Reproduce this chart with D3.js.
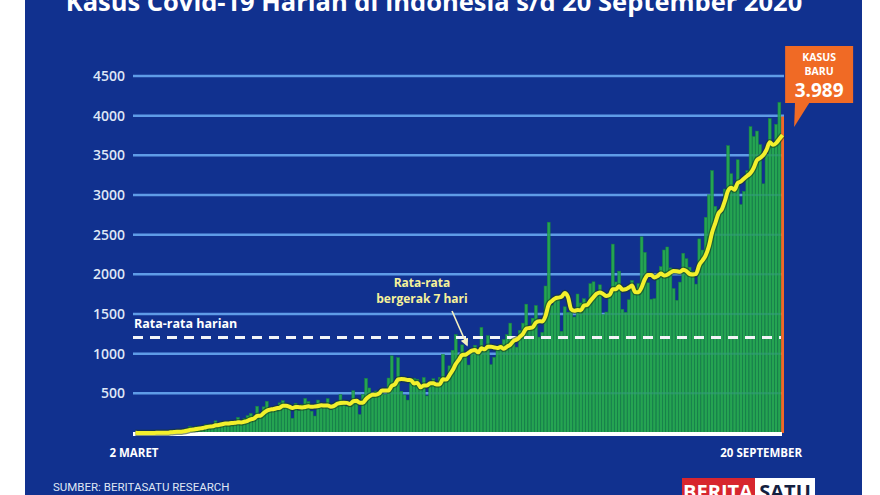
<!DOCTYPE html>
<html>
<head>
<meta charset="utf-8">
<script src="https://cdn.jsdelivr.net/npm/d3@7"></script>
<style>
    body { margin: 0; background: #fff; }
    svg { display: block; font-family: "Open Sans", sans-serif; }
</style>
</head>
<body>
<div id="chart"></div>
<script>
// Daily new cases, 2 Maret - 20 September 2020
var casesMar = [2, 0, 0, 0, 2, 0, 2, 13, 0, 7, 0, 35, 27, 21, 17, 38, 55, 82, 60, 81, 64, 65, 107, 104, 103, 153, 109, 130, 129, 114];
var casesApr = [149, 113, 196, 106, 181, 218, 247, 218, 337, 219, 330, 399, 316, 282, 297, 380, 407, 325, 327, 185, 375, 283, 357, 436, 396, 275, 214, 415, 347, 347];
var casesMay = [433, 292, 349, 395, 484, 367, 338, 336, 533, 387, 233, 484, 689, 568, 490, 529, 489, 496, 486, 693, 973, 634, 949, 526, 479, 415, 686, 687, 678, 557, 700];
var casesJun = [467, 609, 684, 585, 703, 993, 672, 847, 1043, 1241, 979, 1111, 1014, 857, 1017, 1106, 1031, 1331, 1041, 1226, 862, 954, 1051, 1113, 1178, 1240, 1385, 1198, 1082, 1293];
var casesJul = [1385, 1624, 1301, 1447, 1607, 1209, 1268, 1853, 2657, 1611, 1671, 1681, 1282, 1591, 1522, 1574, 1462, 1752, 1639, 1693, 1655, 1882, 1906, 1761, 1868, 1492, 1525, 1748, 2381, 1904, 2040];
var casesAug = [1560, 1519, 1679, 1922, 1815, 1882, 2473, 2277, 1893, 1687, 1693, 1942, 2098, 2307, 2345, 2081, 1821, 1673, 1902, 2266, 2197, 2090, 2037, 1877, 2447, 2306, 2719, 3003, 3308, 2858, 2743];
var casesSep = [2775, 3075, 3622, 3269, 3128, 3444, 2880, 3046, 3307, 3861, 3737, 3806, 3636, 3141, 3507, 3963, 3635, 3891, 4168, 3989];

var yTicks = [500, 1000, 1500, 2000, 2500, 3000, 3500, 4000, 4500];
var dailyAverage = 1205;   // "Rata-rata harian"
var newCasesLabel = "3.989";

var w = 880;
var h = 495;

var cases = [].concat(casesMar, casesApr, casesMay, casesJun, casesJul, casesAug, casesSep);

// 7-day moving average (trailing window)
var movingAvg = cases.map(function (d, i) {
    return d3.mean(cases.slice(Math.max(0, i - 6), i + 1));
});

var svg = d3.select("#chart")
    .append("svg")
    .attr("width", w)
    .attr("height", h);

// blue panel
svg.append("rect")
    .attr("x", 25)
    .attr("y", 0)
    .attr("width", 837)
    .attr("height", h)
    .attr("fill", "#11318f");

var xScale = d3.scaleBand()
    .domain(d3.range(cases.length))
    .range([134, 784])
    .paddingInner(0.1);

var yScale = d3.scaleLinear()
    .domain([0, 4500])
    .range([433, 76]);

// title (cut off at the top, like the source)
svg.append("text")
    .attr("x", 434)
    .attr("y", 11)
    .attr("text-anchor", "middle")
    .attr("fill", "#fff")
    .attr("font-size", "25.5px")
    .attr("font-weight", "bold")
    .text("Kasus Covid-19 Harian di Indonesia s/d 20 September 2020");

// gridlines + tick labels
var grid = svg.append("g");
yTicks.forEach(function (t) {
    grid.append("line")
        .attr("x1", 133)
        .attr("x2", 784)
        .attr("y1", yScale(t))
        .attr("y2", yScale(t))
        .attr("stroke", "#609de8")
        .attr("stroke-width", 2.5);
    grid.append("text")
        .attr("x", 125)
        .attr("y", yScale(t) + 5)
        .attr("text-anchor", "end")
        .attr("fill", "#dfe7f6")
        .attr("font-size", "14px")
        .attr("font-weight", 600)
        .text(t);
});

// bars
svg.selectAll("rect.bar")
    .data(cases)
    .enter()
    .append("rect")
    .attr("class", "bar")
    .attr("x", (d, i) => xScale(i))
    .attr("y", d => yScale(d))
    .attr("width", xScale.bandwidth())
    .attr("height", d => yScale(0) - yScale(d))
    .attr("fill", (d, i) => i === cases.length - 1 ? "#f06a25" : "#25a452")
    .attr("stroke", (d, i) => i === cases.length - 1 ? "none" : "#17843f")
    .attr("stroke-width", 0.5);

// faint gridlines through the bars
yTicks.forEach(function (t) {
    svg.append("line")
        .attr("x1", 133)
        .attr("x2", 780)
        .attr("y1", yScale(t))
        .attr("y2", yScale(t))
        .attr("stroke", "#5b97e3")
        .attr("stroke-width", 2)
        .attr("opacity", 0.15);
});

// daily average dashed line
svg.append("line")
    .attr("x1", 133)
    .attr("x2", 781)
    .attr("y1", yScale(dailyAverage))
    .attr("y2", yScale(dailyAverage))
    .attr("stroke", "#f2f4f8")
    .attr("stroke-width", 3)
    .attr("stroke-dasharray", "10,7");

svg.append("text")
    .attr("x", 134)
    .attr("y", yScale(dailyAverage) - 9)
    .attr("fill", "#fff")
    .attr("font-size", "12.5px")
    .attr("font-weight", "bold")
    .text("Rata-rata harian");

// baseline
svg.append("line")
    .attr("x1", 133)
    .attr("x2", 782)
    .attr("y1", yScale(0) + 1)
    .attr("y2", yScale(0) + 1)
    .attr("stroke", "#fff")
    .attr("stroke-width", 4);

// moving average line
var line = d3.line()
    .x((d, i) => xScale(i) + xScale.bandwidth() / 2)
    .y(d => yScale(d))
    .curve(d3.curveMonotoneX);

svg.append("path")
    .datum(movingAvg)
    .attr("d", line)
    .attr("fill", "none")
    .attr("stroke", "#1d3a1a")
    .attr("stroke-opacity", 0.55)
    .attr("stroke-width", 6.5)
    .attr("stroke-linejoin", "round");

svg.append("path")
    .datum(movingAvg)
    .attr("d", line)
    .attr("fill", "none")
    .attr("stroke", "#f3f02c")
    .attr("stroke-width", 4)
    .attr("stroke-linejoin", "round");

// moving average annotation
svg.append("text")
    .attr("x", 422)
    .attr("y", 287)
    .attr("text-anchor", "middle")
    .attr("fill", "#f6f19a")
    .attr("font-size", "12px")
    .attr("font-weight", "bold")
    .text("Rata-rata");
svg.append("text")
    .attr("x", 422)
    .attr("y", 303)
    .attr("text-anchor", "middle")
    .attr("fill", "#f6f19a")
    .attr("font-size", "12px")
    .attr("font-weight", "bold")
    .text("bergerak 7 hari");

svg.append("defs")
    .append("marker")
    .attr("id", "arrow")
    .attr("viewBox", "0 0 10 10")
    .attr("refX", 8)
    .attr("refY", 5)
    .attr("markerWidth", 5)
    .attr("markerHeight", 5)
    .attr("orient", "auto")
    .append("path")
    .attr("d", "M0,0 L10,5 L0,10 z")
    .attr("fill", "#f6f1c0");

svg.append("line")
    .attr("x1", 452)
    .attr("y1", 311)
    .attr("x2", 467)
    .attr("y2", 345)
    .attr("stroke", "#f6f1c0")
    .attr("stroke-width", 1.6)
    .attr("marker-end", "url(#arrow)");

// x labels
var lastX = xScale(cases.length - 1);
svg.append("text")
    .attr("x", xScale(0))
    .attr("y", 457)
    .attr("text-anchor", "middle")
    .attr("fill", "#fff")
    .attr("font-size", "11.5px")
    .attr("font-weight", "bold")
    .text("2 MARET");

svg.append("text")
    .attr("x", lastX + 21)
    .attr("y", 457)
    .attr("text-anchor", "end")
    .attr("fill", "#fff")
    .attr("font-size", "11.5px")
    .attr("font-weight", "bold")
    .text("20 SEPTEMBER");

// source
svg.append("text")
    .attr("x", 53)
    .attr("y", 491)
    .attr("fill", "#dfe6f4")
    .attr("font-size", "11.5px")
    .attr("font-family", "'Liberation Sans Narrow', 'Roboto', sans-serif")
    .text("SUMBER: BERITASATU RESEARCH");

// "Kasus baru" callout
var call = svg.append("g");
call.append("path")
    .attr("d", "M" + (lastX + 14) + ",100 L" + (lastX + 30) + ",100 L" + (lastX + 13) + ",127 Z")
    .attr("fill", "#f06a25");
call.append("rect")
    .attr("x", lastX + 4)
    .attr("y", 46)
    .attr("width", 68)
    .attr("height", 57)
    .attr("fill", "#f06a25");
call.append("text")
    .attr("x", lastX + 38)
    .attr("y", 61)
    .attr("text-anchor", "middle")
    .attr("fill", "#fff")
    .attr("font-size", "10.5px")
    .attr("font-weight", "bold")
    .text("KASUS");
call.append("text")
    .attr("x", lastX + 38)
    .attr("y", 75)
    .attr("text-anchor", "middle")
    .attr("fill", "#fff")
    .attr("font-size", "10.5px")
    .attr("font-weight", "bold")
    .text("BARU");
call.append("text")
    .attr("x", lastX + 38)
    .attr("y", 97)
    .attr("text-anchor", "middle")
    .attr("fill", "#fff")
    .attr("font-size", "19px")
    .attr("font-weight", "bold")
    .text(newCasesLabel);

// logo
var logo = svg.append("g");
logo.append("rect")
    .attr("x", 682).attr("y", 478).attr("width", 73).attr("height", 20)
    .attr("fill", "#d7262e");
logo.append("rect")
    .attr("x", 755).attr("y", 478).attr("width", 60).attr("height", 20)
    .attr("fill", "#fff");
logo.append("text")
    .attr("x", 718).attr("y", 499)
    .attr("text-anchor", "middle")
    .attr("fill", "#fff")
    .attr("font-size", "20px")
    .attr("font-weight", "bold")
    .text("BERITA");
logo.append("text")
    .attr("x", 785).attr("y", 499)
    .attr("text-anchor", "middle")
    .attr("fill", "#14203f")
    .attr("font-size", "20px")
    .attr("font-weight", "bold")
    .text("SATU");
</script>
</body>
</html>
